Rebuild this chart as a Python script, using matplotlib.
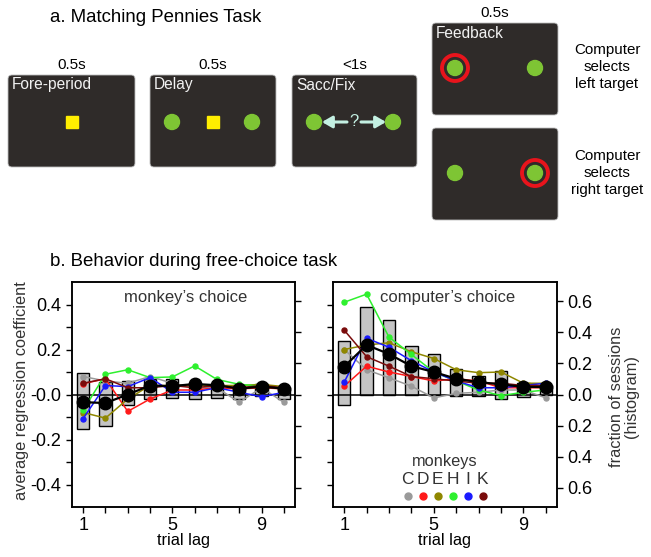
import matplotlib
matplotlib.use('Agg')
import matplotlib.pyplot as plt
from matplotlib.patches import FancyBboxPatch, Rectangle, Circle
import numpy as np

plt.rcParams['font.family'] = ['Liberation Sans', 'DejaVu Sans']

# ---- data ----
lags = np.arange(1, 11)
monkeys = ['C', 'D', 'E', 'H', 'I', 'K']
monkey_colors = ['#9a9a9a', '#ff1a1a', '#8f8700', '#2ef02e', '#1a1aff', '#7a0c0c']

# monkey's choice: regression coefficients per monkey
own_coef = {
    'C': [0.08, 0.06, 0.05, 0.08, 0.05, 0.03, 0.03, -0.035, 0.03, -0.035],
    'D': [0.048, 0.07, -0.075, -0.02, 0.02, 0.02, 0.03, 0.025, 0.03, 0.025],
    'E': [-0.08, -0.105, -0.02, 0.04, 0.04, 0.04, 0.04, 0.04, 0.045, 0.035],
    'H': [-0.07, 0.09, 0.11, 0.075, 0.078, 0.127, 0.067, 0.045, 0.037, 0.03],
    'I': [-0.107, 0.04, 0.035, 0.075, 0.01, 0.01, 0.03, 0.01, -0.01, 0.01],
    'K': [0.05, 0.07, 0.03, 0.03, 0.04, 0.03, 0.04, 0.03, 0.04, 0.03],
}
own_mean = [-0.034, -0.038, 0.0, 0.04, 0.037, 0.047, 0.041, 0.026, 0.035, 0.026]
own_hist_pos = [0.14, 0.08, 0.085, 0.10, 0.10, 0.065, 0.07, 0.06, 0.065, 0.045]
own_hist_neg = [0.22, 0.20, 0.07, 0.03, 0.02, 0.03, 0.02, 0.03, 0.01, 0.03]

# computer's choice
comp_coef = {
    'C': [0.2, 0.11, 0.074, 0.037, -0.015, 0.005, 0.01, 0.02, 0.02, -0.015],
    'D': [0.037, 0.126, 0.1, 0.08, 0.06, 0.07, 0.06, 0.03, 0.03, 0.03],
    'E': [0.2, 0.22, 0.23, 0.19, 0.16, 0.11, 0.097, 0.1, 0.05, 0.05],
    'H': [0.41, 0.446, 0.255, 0.178, 0.1, 0.06, 0.02, -0.005, 0.01, 0.02],
    'I': [0.055, 0.25, 0.21, 0.15, 0.1, 0.06, 0.03, 0.03, 0.04, 0.05],
    'K': [0.286, 0.168, 0.126, 0.08, 0.07, 0.06, 0.05, 0.05, 0.04, 0.04],
}
comp_mean = [0.124, 0.22, 0.18, 0.126, 0.1, 0.07, 0.055, 0.045, 0.034, 0.033]
comp_hist_pos = [0.345, 0.56, 0.48, 0.31, 0.26, 0.165, 0.12, 0.15, 0.075, 0.06]
comp_hist_neg = [0.07, 0.0, 0.0, 0.0, 0.0, 0.01, 0.01, 0.03, 0.015, 0.005]

coef_ticks = np.round(np.arange(-0.4, 0.41, 0.1), 1)
hist_ticks = [-0.6, -0.4, -0.2, 0.0, 0.2, 0.4, 0.6]

W, H = 651, 557
TICK_FS = 13
LABEL_FS = 11.8
fig = plt.figure(figsize=(W / 100, H / 100), dpi=100)

# ---- panel a: task schematic, drawn in pixel coordinates ----
sk = fig.add_axes([0, 0, 1, 1])
sk.set_xlim(0, W)
sk.set_ylim(H, 0)
sk.axis('off')

BOX = '#2f2b29'
TXT = '#f2f2f2'
GREEN = '#7ec534'
YELLOW = '#ffee00'
ARROW = '#c4f0e2'


def box(x0, y0, x1, y1, label):
    sk.add_patch(FancyBboxPatch((x0, y0), x1 - x0, y1 - y0,
                                boxstyle='round,pad=0,rounding_size=4',
                                fc=BOX, ec='#bdbdbd', lw=0.6))
    sk.text(x0 + 4, y0 + 10, label, color=TXT, fontsize=11.2, va='center', ha='left')


def target(x, y):
    sk.add_patch(Circle((x, y), 7.5, color=GREEN))


def fix(x, y):
    sk.add_patch(Rectangle((x - 6, y - 6), 12, 12, color=YELLOW))


sk.text(50, 17, 'a. Matching Pennies Task', fontsize=13.4, ha='left', va='center')

box(8, 75, 135, 167, 'Fore-period')
sk.text(72, 65, '0.5s', fontsize=11, ha='center', va='center')
fix(72, 122)

box(150, 75, 276, 167, 'Delay')
sk.text(213, 65, '0.5s', fontsize=11, ha='center', va='center')
target(172, 122)
fix(213, 122)
target(252, 122)

box(292, 75, 417, 167, 'Sacc/Fix')
sk.text(355, 65, '<1s', fontsize=11, ha='center', va='center')
target(314, 122)
target(393, 122)
sk.text(354, 122, '?', color=ARROW, fontsize=12, ha='center', va='center')
for tip, tail in [(322, 347), (386, 361)]:
    sk.annotate('', xy=(tip, 122), xytext=(tail, 122),
                arrowprops=dict(arrowstyle='-|>,head_width=0.35,head_length=0.6',
                                color=ARROW, lw=2.2, shrinkA=0, shrinkB=0))

box(432, 23, 558, 115, 'Feedback')
sk.text(495, 13, '0.5s', fontsize=11, ha='center', va='center')
target(455, 68)
target(535, 68)
sk.add_patch(Circle((455, 68), 13, fill=False, ec='#e8141c', lw=2.8))

box(432, 128, 558, 220, '')
target(455, 173)
target(535, 173)
sk.add_patch(Circle((535, 173), 13, fill=False, ec='#e8141c', lw=2.8))

sk.text(607, 67, 'Computer\nselects\nleft target', fontsize=10.9, ha='center',
        va='center', linespacing=1.25)
sk.text(607, 173, 'Computer\nselects\nright target', fontsize=10.9, ha='center',
        va='center', linespacing=1.25)

sk.text(50, 262, 'b. Behavior during free-choice task', fontsize=13.4, ha='left', va='center')

# ---- panel b ----


def draw_panel(rect, coefs, mean, hist_pos, hist_neg, title, left_labels):
    ax = fig.add_axes(rect)
    tw = ax.twinx()
    bottoms = -np.array(hist_neg)
    heights = np.array(hist_pos) + np.array(hist_neg)
    tw.bar(lags, heights, bottom=bottoms, width=0.55, color='#c4c4c4',
           edgecolor='black', lw=1.0)
    tw.set_ylim(-0.723, 0.723)
    tw.set_yticks(hist_ticks)
    if left_labels:
        tw.set_yticklabels([])
    else:
        tw.set_yticklabels(['%.1f' % abs(t) for t in hist_ticks])
    tw.tick_params(axis='y', direction='out', length=4.5, width=1, labelsize=TICK_FS, pad=3)

    ax.set_zorder(tw.get_zorder() + 1)
    ax.patch.set_visible(False)

    ax.axhline(0, color='black', lw=1.1, zorder=1)
    for m, c in zip(monkeys, monkey_colors):
        ax.plot(lags, coefs[m], '-o', color=c, lw=1.1, ms=3.6, zorder=2)
    ax.plot(lags, mean, '-o', color='black', lw=1.6, ms=9, zorder=3)

    ax.set_xlim(0.5, 10.5)
    ax.set_ylim(-0.5, 0.5)
    ax.set_xticks(lags)
    ax.set_xticklabels([str(l) if l in (1, 5, 9) else '' for l in lags])
    ax.set_yticks(coef_ticks)
    if left_labels:
        ax.set_yticklabels(['%.1f' % t if round(t * 10) % 2 == 0 else '' for t in coef_ticks])
    else:
        ax.set_yticklabels([])
    ax.tick_params(direction='out', length=4.5, width=1, labelsize=TICK_FS, pad=3)
    ax.set_xlabel('trial lag', fontsize=LABEL_FS, labelpad=-1)
    for sp in list(ax.spines.values()) + list(tw.spines.values()):
        sp.set_linewidth(1.1)
    ax.text(0.51, 0.93, title, transform=ax.transAxes, ha='center', va='center',
            fontsize=12, color='#333333')
    return ax


ax1 = draw_panel([72 / W, 1 - 507 / H, 223 / W, 225 / H], own_coef, own_mean,
                 own_hist_pos, own_hist_neg, 'monkey\u2019s choice', True)
ax2 = draw_panel([333 / W, 1 - 507 / H, 224 / W, 225 / H], comp_coef, comp_mean,
                 comp_hist_pos, comp_hist_neg, 'computer\u2019s choice', False)

fig.text(22 / W, 1 - 391 / H, 'average regression coefficient', rotation=90,
         ha='center', va='center', fontsize=LABEL_FS, color='#333333')
fig.text(624 / W, 1 - 397 / H, 'fraction of sessions\n(histogram)', rotation=90,
         ha='center', va='center', fontsize=LABEL_FS, color='#333333', linespacing=1.0)

# monkey legend
ax2.text(0.5, 0.202, 'monkeys', transform=ax2.transAxes, ha='center', va='center',
         fontsize=LABEL_FS, color='#333333')
leg_x = 0.333 + 0.067 * np.arange(len(monkeys))
for x, m, c in zip(leg_x, monkeys, monkey_colors):
    ax2.text(x, 0.12, m, transform=ax2.transAxes, ha='center', va='center',
             fontsize=12.5, color='#333333')
    ax2.plot([x], [0.049], 'o', color=c, ms=5, transform=ax2.transAxes, clip_on=False)

fig.savefig('out.png', dpi=100)
